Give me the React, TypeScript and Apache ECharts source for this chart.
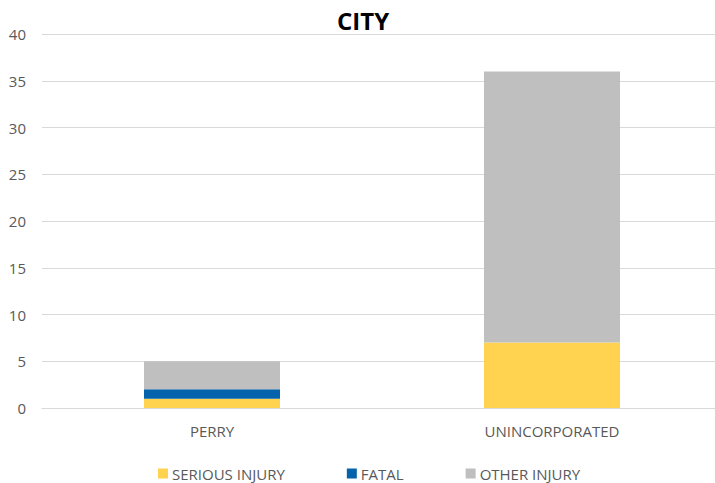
import React, { useEffect, useRef } from "react";
import * as echarts from "echarts";

const categories = ["PERRY", "UNINCORPORATED"];
const seriousInjury = [1, 7];
const fatal = [1, 0];
const otherInjury = [3, 29];
const yTicks = { min: 0, max: 40, interval: 5 };

const FONT = "'Open Sans', 'Liberation Sans', sans-serif";

export default function App() {
  const ref = useRef<HTMLDivElement>(null);
  useEffect(() => {
    if (!ref.current) return;
    const chart = echarts.init(ref.current, null, { renderer: "svg" });
    const mk = (name: string, data: number[], color: string) => ({
      name,
      type: "bar",
      stack: "total",
      data,
      barWidth: "40%",
      itemStyle: { color },
      emphasis: { disabled: true },
    });
    chart.setOption({
      animation: false,
      title: {
        text: "CITY",
        left: 332,
        top: 3,
        textStyle: { fontFamily: FONT, fontSize: 24, fontWeight: "bold", color: "#000" },
      },
      legend: {
        bottom: -3,
        left: 153,
        itemWidth: 10,
        itemHeight: 10,
        itemGap: 62,
        icon: "rect",
        textStyle: { fontFamily: FONT, fontSize: 15, color: "#595959", padding: [0, 0, 0, -1] },
        data: ["SERIOUS INJURY", "FATAL", "OTHER INJURY"],
      },
      grid: { left: 42, width: 680, top: 34, bottom: 75, containLabel: false },
      xAxis: {
        type: "category",
        data: categories,
        axisLine: { show: true, lineStyle: { color: "#d9d9d9", width: 1 } },
        axisTick: { show: false },
        axisLabel: { fontFamily: FONT, fontSize: 15, color: "#595959", margin: 15 },
      },
      yAxis: {
        type: "value",
        min: yTicks.min,
        max: yTicks.max,
        interval: yTicks.interval,
        axisLine: { show: false },
        axisTick: { show: false },
        splitLine: { lineStyle: { color: "#d9d9d9", width: 1 } },
        axisLabel: { fontFamily: FONT, fontSize: 15, color: "#595959", margin: 16 },
      },
      series: [
        mk("SERIOUS INJURY", seriousInjury, "#FFD24F"),
        mk("FATAL", fatal, "#0563AB"),
        mk("OTHER INJURY", otherInjury, "#BFBFBF"),
      ],
    });
    return () => chart.dispose();
  }, []);
  return (
    <div style={{ position: "fixed", left: 0, top: 0, width: 715, height: 483, overflow: "hidden", background: "#fff" }}>
      <div ref={ref} style={{ width: 740, height: 483 }} />
    </div>
  );
}
